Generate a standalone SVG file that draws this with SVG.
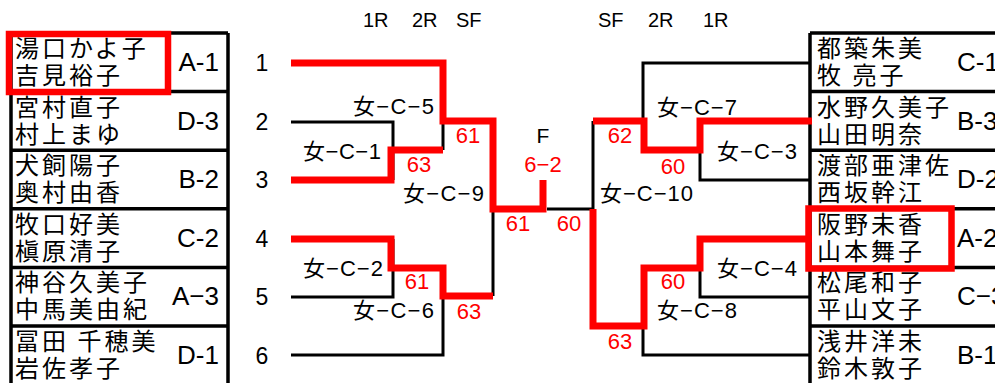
<svg xmlns="http://www.w3.org/2000/svg" width="995" height="383" viewBox="0 0 995 383">
<style>
.nm{font-family:"Noto Sans CJK JP","Noto Sans CJK SC",sans-serif;font-size:24px;letter-spacing:3px;fill:#000}
.cd{font-family:"Liberation Sans",Arial,sans-serif;font-size:26px;fill:#000}
.sd{font-family:"Liberation Sans",Arial,sans-serif;font-size:23px;fill:#000;text-anchor:middle}
.hd{font-family:"Liberation Sans",Arial,sans-serif;font-size:20px;fill:#000}
.lb{font-family:"Liberation Sans","Noto Sans CJK JP",sans-serif;font-size:22px;fill:#000}
.sc{font-family:"Liberation Sans",Arial,sans-serif;font-size:22px;fill:#f00;text-anchor:middle}
.bl{fill:none;stroke:#000;stroke-width:3}
.rd{fill:none;stroke:#f00;stroke-width:7;stroke-linejoin:miter;stroke-linecap:butt}
.tb{fill:none;stroke:#000;stroke-width:3.5}
.hl{fill:none;stroke:#f00;stroke-width:6.5}
</style>
<rect width="995" height="383" fill="#fff"/>

<!-- headers -->
<g id="headers">
<text class="hd" x="363" y="27">1R</text>
<text class="hd" x="412" y="27">2R</text>
<text class="hd" x="456" y="27">SF</text>
<text class="hd" x="598" y="27">SF</text>
<text class="hd" x="648" y="27">2R</text>
<text class="hd" x="703" y="27">1R</text>
<text class="hd" x="543" y="143" text-anchor="middle" style="font-size:21px">F</text>
</g>

<!-- left table -->
<g id="left-table">
<path class="tb" d="M11,33 H228 M11,33 V390 M228,33 V390 M11,91.6 H228 M11,150.2 H228 M11,208.8 H228 M11,267.4 H228 M11,326 H228"/>
</g>
<g id="entry-L1"><text class="nm" x="15" y="57">湯口かよ子</text><text class="nm" x="15" y="84">吉見裕子</text><text class="cd" x="219" y="71" text-anchor="end">A-1</text><text class="sd" x="262" y="71">1</text></g>
<g id="entry-L2"><text class="nm" x="15" y="115.6">宮村直子</text><text class="nm" x="15" y="142.6">村上まゆ</text><text class="cd" x="219" y="129.6" text-anchor="end">D-3</text><text class="sd" x="262" y="129.6">2</text></g>
<g id="entry-L3"><text class="nm" x="15" y="174.2">犬飼陽子</text><text class="nm" x="15" y="201.2">奥村由香</text><text class="cd" x="219" y="188.2" text-anchor="end">B-2</text><text class="sd" x="262" y="188.2">3</text></g>
<g id="entry-L4"><text class="nm" x="15" y="232.8">牧口好美</text><text class="nm" x="15" y="259.8">槇原清子</text><text class="cd" x="219" y="246.8" text-anchor="end">C-2</text><text class="sd" x="262" y="246.8">4</text></g>
<g id="entry-L5"><text class="nm" x="15" y="291.4">神谷久美子</text><text class="nm" x="15" y="318.4">中馬美由紀</text><text class="cd" x="219" y="305.4" text-anchor="end">A−3</text><text class="sd" x="262" y="305.4">5</text></g>
<g id="entry-L6"><text class="nm" x="15" y="350">冨田 千穂美</text><text class="nm" x="15" y="377">岩佐孝子</text><text class="cd" x="219" y="364" text-anchor="end">D-1</text><text class="sd" x="262" y="364">6</text></g>

<!-- right table -->
<g id="right-table">
<path class="tb" d="M810,33 H1000 M810,33 V390 M810,91.6 H1000 M810,150.2 H1000 M810,208.8 H1000 M810,267.4 H1000 M810,326 H1000"/>
</g>
<g id="entry-R1"><text class="nm" x="817" y="57">都築朱美</text><text class="nm" x="817" y="84">牧 亮子</text><text class="cd" x="957" y="71">C-1</text></g>
<g id="entry-R2"><text class="nm" x="817" y="115.6">水野久美子</text><text class="nm" x="817" y="142.6">山田明奈</text><text class="cd" x="957" y="129.6">B-3</text></g>
<g id="entry-R3"><text class="nm" x="817" y="174.2">渡部亜津佐</text><text class="nm" x="817" y="201.2">西坂幹江</text><text class="cd" x="957" y="188.2">D-2</text></g>
<g id="entry-R4"><text class="nm" x="817" y="232.8">阪野未香</text><text class="nm" x="817" y="259.8">山本舞子</text><text class="cd" x="957" y="246.8">A-2</text></g>
<g id="entry-R5"><text class="nm" x="817" y="291.4">松尾和子</text><text class="nm" x="817" y="318.4">平山文子</text><text class="cd" x="957" y="305.4">C−3</text></g>
<g id="entry-R6"><text class="nm" x="817" y="350">浅井洋未</text><text class="nm" x="817" y="377">鈴木敦子</text><text class="cd" x="957" y="364">B-1</text></g>

<!-- highlight boxes -->
<g id="highlights">
<rect class="hl" x="9" y="34" width="159" height="58"/>
<rect class="hl" x="808.5" y="208.5" width="143" height="60"/>
</g>

<!-- connectors -->
<g id="connectors">
<path class="bl" d="M291,122 H393 V180"/>
<path class="bl" d="M291,297 H393 V239"/>
<path class="bl" d="M291,355 H443 V268"/>
<path class="bl" d="M443,150 V63"/>
<path class="bl" d="M493,121 V296"/>
<path class="bl" d="M547,209 H593"/>
<path class="bl" d="M810,63 H643 V150"/>
<path class="bl" d="M810,180 H700 V121"/>
<path class="bl" d="M810,297 H700 V239"/>
<path class="bl" d="M810,355 H643 V268"/>
<path class="bl" d="M593,121 V326"/>
<path class="rd" d="M291,63 H443 V121 H493 V209 H543 V180"/>
<path class="rd" d="M291,180 H391 V150 H443"/>
<path class="rd" d="M291,239 H391 V268 H443 V296 H493"/>
<path class="rd" d="M812,121 H700 V150 H644 V121 H593"/>
<path class="rd" d="M812,239 H700 V268 H644 V326 H593 V209"/>
</g>

<!-- match labels -->
<g id="matches">
<text class="lb" x="353" y="114" textLength="81" lengthAdjust="spacing">女−C−5</text>
<text class="lb" x="303" y="159" textLength="78" lengthAdjust="spacing">女−C−1</text>
<text class="lb" x="403" y="201" textLength="81" lengthAdjust="spacing">女−C−9</text>
<text class="lb" x="303" y="276" textLength="80" lengthAdjust="spacing">女−C−2</text>
<text class="lb" x="353" y="318" textLength="81" lengthAdjust="spacing">女−C−6</text>
<text class="lb" x="657" y="115" textLength="80" lengthAdjust="spacing">女−C−7</text>
<text class="lb" x="717" y="159" textLength="80" lengthAdjust="spacing">女−C−3</text>
<text class="lb" x="600" y="201" textLength="93" lengthAdjust="spacing">女−C−10</text>
<text class="lb" x="717" y="276" textLength="80" lengthAdjust="spacing">女−C−4</text>
<text class="lb" x="657" y="318" textLength="80" lengthAdjust="spacing">女−C−8</text>
</g>

<!-- scores -->
<g id="scores">
<text class="sc" x="419" y="172">63</text>
<text class="sc" x="468" y="143">61</text>
<text class="sc" x="417" y="289">61</text>
<text class="sc" x="469" y="319">63</text>
<text class="sc" x="543" y="172">6−2</text>
<text class="sc" x="518" y="231">61</text>
<text class="sc" x="569" y="231">60</text>
<text class="sc" x="620" y="143">62</text>
<text class="sc" x="673" y="174">60</text>
<text class="sc" x="673" y="289">60</text>
<text class="sc" x="620" y="349">63</text>
</g>
</svg>
